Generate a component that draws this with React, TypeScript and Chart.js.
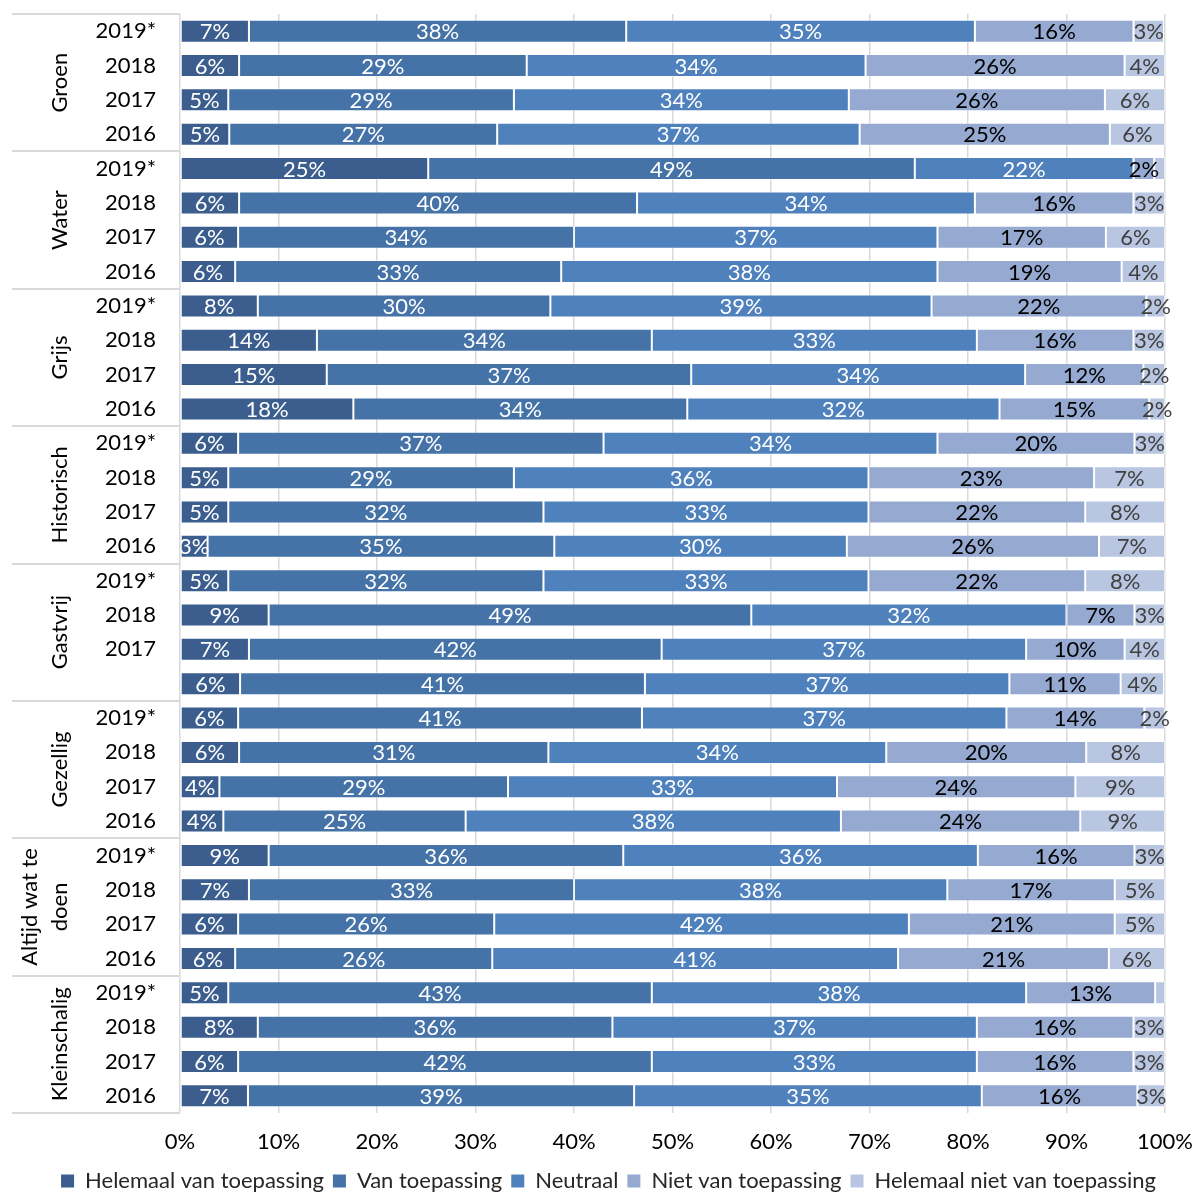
import React, { useEffect, useRef } from 'react';
import { Chart, registerables } from 'chart.js';

Chart.register(...registerables);

const FONT = 'Lato';

const groups = ['Groen', 'Water', 'Grijs', 'Historisch', 'Gastvrij', 'Gezellig', 'Altijd wat te doen', 'Kleinschalig'];

const years = [
  '2019*', '2018', '2017', '2016',
  '2019*', '2018', '2017', '2016',
  '2019*', '2018', '2017', '2016',
  '2019*', '2018', '2017', '2016',
  '2019*', '2018', '2017', '',
  '2019*', '2018', '2017', '2016',
  '2019*', '2018', '2017', '2016',
  '2019*', '2018', '2017', '2016',
];

const seriesNames = [
  'Helemaal van toepassing',
  'Van toepassing',
  'Neutraal',
  'Niet van toepassing',
  'Helemaal niet van toepassing',
];

const helemaalVanToepassing = [
  7.0, 6.0, 4.9, 5.0,
  25.2, 6.0, 5.9, 5.6,
  7.9, 13.9, 14.9, 17.6,
  5.9, 4.9, 4.9, 2.8,
  4.9, 9.0, 7.0, 6.1,
  5.9, 6.0, 4.0, 4.4,
  9.0, 7.0, 5.9, 5.6,
  4.9, 7.9, 5.9, 6.9,
];

const vanToepassing = [
  38.3, 29.2, 29.0, 27.2,
  49.4, 40.4, 34.1, 33.1,
  29.7, 34.0, 37.0, 33.9,
  37.1, 29.0, 32.0, 35.2,
  32.0, 49.0, 41.9, 41.1,
  41.0, 31.4, 29.3, 24.6,
  36.0, 33.0, 26.0, 26.1,
  43.0, 36.0, 42.0, 39.2,
];

const neutraal = [
  35.4, 34.4, 34.0, 36.8,
  22.2, 34.3, 36.9, 38.2,
  38.7, 33.0, 33.9, 31.7,
  33.9, 36.0, 33.0, 29.7,
  33.0, 32.0, 37.0, 37.0,
  37.0, 34.3, 33.4, 38.1,
  36.0, 37.9, 42.1, 41.2,
  38.0, 37.0, 33.0, 35.3,
];

const nietVanToepassing = [
  16.1, 26.3, 26.0, 25.4,
  2.1, 16.1, 17.1, 18.7,
  21.8, 15.9, 12.0, 15.2,
  20.0, 22.9, 22.0, 25.6,
  22.0, 6.9, 10.0, 11.3,
  14.0, 20.3, 24.2, 24.3,
  15.9, 17.0, 20.9, 21.4,
  13.1, 15.9, 15.9, 15.8,
];

const helemaalNietVanToepassing = [
  3.1, 4.1, 6.1, 5.6,
  1.1, 3.2, 6.0, 4.4,
  1.9, 3.2, 2.2, 1.6,
  3.1, 7.2, 8.1, 6.7,
  8.1, 3.1, 4.1, 4.4,
  2.1, 8.0, 9.1, 8.6,
  3.1, 5.1, 5.1, 5.7,
  1.0, 3.2, 3.2, 2.8,
];

const seriesValues = [
  helemaalVanToepassing,
  vanToepassing,
  neutraal,
  nietVanToepassing,
  helemaalNietVanToepassing,
];

const seriesColors = ['#3b5e8e', '#4573a7', '#4f81bd', '#95a9d1', '#b9c6e1'];
const labelColors = ['#ffffff', '#ffffff', '#ffffff', '#000000', '#404040'];

const xTickValues = [0, 10, 20, 30, 40, 50, 60, 70, 80, 90, 100];

function wrapText(ctx: CanvasRenderingContext2D, text: string, maxWidth: number): string[] {
  const words = text.split(' ');
  const lines: string[] = [];
  let cur = '';
  for (const w of words) {
    const test = cur ? cur + ' ' + w : w;
    if (ctx.measureText(test).width > maxWidth && cur) {
      lines.push(cur);
      cur = w;
    } else {
      cur = test;
    }
  }
  if (cur) lines.push(cur);
  return lines;
}

const leftPanelPlugin = {
  id: 'leftPanel',
  afterDraw(chart: any) {
    const ctx = chart.ctx as CanvasRenderingContext2D;
    const yScale = chart.scales.y;
    const area = chart.chartArea;
    const n = chart.data.labels.length;
    const pitch = (yScale.getPixelForValue(n - 1) - yScale.getPixelForValue(0)) / (n - 1);
    const perGroup = n / groups.length;
    ctx.save();
    ctx.strokeStyle = '#d9d9d9';
    ctx.lineWidth = 2;
    for (let g = 0; g <= groups.length; g++) {
      const yy = Math.round(yScale.getPixelForValue(g * perGroup) - pitch / 2);
      ctx.beginPath();
      ctx.moveTo(12, yy);
      ctx.lineTo(area.left, yy);
      ctx.stroke();
    }
    ctx.fillStyle = '#000000';
    ctx.font = `22px ${FONT}`;
    ctx.textAlign = 'center';
    ctx.textBaseline = 'middle';
    groups.forEach((name, g) => {
      const top = yScale.getPixelForValue(g * perGroup) - pitch / 2;
      const bottom = yScale.getPixelForValue((g + 1) * perGroup - 1) + pitch / 2;
      const cy = (top + bottom) / 2;
      const lines = wrapText(ctx, name, bottom - top - 10);
      lines.forEach((line, i) => {
        const cx = 60 - (lines.length - 1 - i) * 30;
        ctx.save();
        ctx.translate(cx, cy);
        ctx.rotate(-Math.PI / 2);
        ctx.fillText(line, 0, 0);
        ctx.restore();
      });
    });
    ctx.restore();
  },
};

const barLabelPlugin = {
  id: 'barLabels',
  afterDatasetsDraw(chart: any) {
    const ctx = chart.ctx as CanvasRenderingContext2D;
    ctx.save();
    ctx.font = `22px ${FONT}`;
    ctx.textAlign = 'center';
    ctx.textBaseline = 'middle';
    chart.data.datasets.forEach((ds: any, di: number) => {
      const meta = chart.getDatasetMeta(di);
      meta.data.forEach((bar: any, i: number) => {
        const v = ds.data[i];
        if (v == null || v < 1.5) return;
        const p = bar.getProps(['x', 'base', 'y'], true);
        ctx.fillStyle = labelColors[di];
        ctx.fillText(Math.round(v) + '%', (p.x + p.base) / 2, p.y + 1);
      });
    });
    ctx.restore();
  },
};

export default function App() {
  const canvasRef = useRef<HTMLCanvasElement | null>(null);

  useEffect(() => {
    if (!canvasRef.current) return;
    const chart = new Chart(canvasRef.current, {
      type: 'bar',
      data: {
        labels: years,
        datasets: seriesNames.map((name, i) => ({
          label: name,
          data: seriesValues[i],
          backgroundColor: seriesColors[i],
          borderColor: 'rgba(255,255,255,0.45)',
          borderWidth: 1,
          borderSkipped: false,
          barPercentage: 0.67,
          categoryPercentage: 1,
        })),
      },
      options: {
        indexAxis: 'y',
        animation: false,
        responsive: true,
        maintainAspectRatio: false,
        layout: { padding: { top: 14, right: 30, left: 0, bottom: -9 } },
        scales: {
          x: {
            stacked: true,
            min: 0,
            max: 100,
            afterBuildTicks: (scale: any) => {
              scale.ticks = xTickValues.map((v) => ({ value: v }));
            },
            afterFit: (scale: any) => {
              scale.height = 48;
            },
            ticks: {
              callback: (v: any) => v + '%',
              font: { family: FONT, size: 22 },
              color: '#000000',
              padding: 0,
              maxRotation: 0,
            },
            grid: {
              color: '#d9d9d9',
              lineWidth: 1.5,
              drawTicks: true,
              tickLength: 16,
              tickColor: 'rgba(0,0,0,0)',
            },
            border: { display: false },
          },
          y: {
            stacked: true,
            afterFit: (scale: any) => {
              scale.width = 180;
            },
            ticks: {
              font: { family: FONT, size: 22 },
              color: '#000000',
              padding: 0,
              autoSkip: false,
            },
            grid: { display: false, drawTicks: true, tickLength: 24 },
            border: { display: false },
          },
        },
        plugins: {
          legend: {
            position: 'bottom',
            align: 'end',
            labels: {
              boxWidth: 13,
              boxHeight: 13,
              padding: 9,
              color: '#262626',
              font: { family: FONT, size: 22 },
              generateLabels: (c: any) =>
                Chart.defaults.plugins.legend.labels
                  .generateLabels(c)
                  .map((l: any) => ({ ...l, lineWidth: 0, strokeStyle: 'rgba(0,0,0,0)' })),
            },
          },
          tooltip: { enabled: false },
        },
      },
      plugins: [barLabelPlugin, leftPanelPlugin],
    } as any);
    return () => chart.destroy();
  }, []);

  return (
    <div style={{ position: 'absolute', left: 0, top: 0, width: 1195, height: 1193, background: '#ffffff' }}>
      <canvas ref={canvasRef} style={{ display: 'block' }} />
    </div>
  );
}
